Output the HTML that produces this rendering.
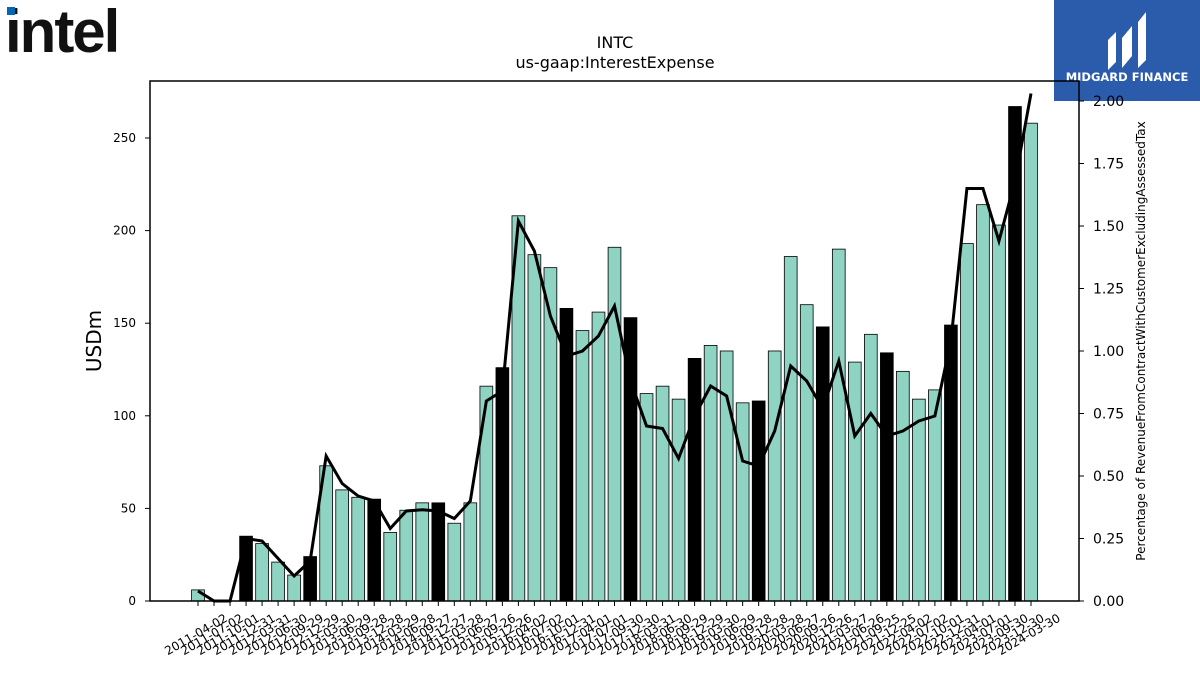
<!DOCTYPE html>
<html><head><meta charset="utf-8"><style>
body{margin:0;background:#fff;width:1200px;height:675px;overflow:hidden;font-family:"DejaVu Sans","Liberation Sans",sans-serif}
</style></head><body>
<svg id="c" width="1200" height="675" xmlns="http://www.w3.org/2000/svg" font-family="DejaVu Sans, Liberation Sans, sans-serif">
<text x="5" y="52" font-size="60" font-weight="bold" fill="#111" font-family="Liberation Sans,sans-serif" letter-spacing="-2">intel</text>
<rect x="7" y="7" width="8" height="8" fill="#0068b5"/>
<g>
<rect x="1054" y="0" width="146" height="101" fill="#2b5bab"/>
<path d="M1108 70 L1108 40 L1116 32 L1116 62 Z M1122 68 L1122 38 L1132 26 L1132 56 Z M1138 68 L1138 22 L1146 12 L1146 60 Z" fill="#fff"/>
<text x="1127" y="81" font-size="11.5" font-weight="bold" fill="#fff" text-anchor="middle">MIDGARD FINANCE</text>
</g>
<text x="615" y="48" font-size="16" text-anchor="middle">INTC</text>
<text x="615" y="68" font-size="16" text-anchor="middle">us-gaap:InterestExpense</text>
<g id="bars"></g><g id="line"></g><g id="axes"></g>
<rect x="150" y="81" width="929" height="520" fill="none" stroke="#000" stroke-width="1.5"/>
<text transform="translate(101,341) rotate(-90)" font-size="20" text-anchor="middle">USDm</text>
<text transform="translate(1145,341) rotate(-90)" font-size="12" text-anchor="middle">Percentage of RevenueFromContractWithCustomerExcludingAssessedTax</text>
</svg>
<script>
const dates=["2011-04-02","2011-07-02","2011-10-01","2011-12-31","2012-03-31","2012-06-30","2012-09-29","2012-12-29","2013-03-30","2013-06-29","2013-09-28","2013-12-28","2014-03-29","2014-06-28","2014-09-27","2014-12-27","2015-03-28","2015-06-27","2015-09-26","2015-12-26","2016-04-02","2016-07-02","2016-10-01","2016-12-31","2017-04-01","2017-07-01","2017-09-30","2017-12-30","2018-03-31","2018-06-30","2018-09-29","2018-12-29","2019-03-30","2019-06-29","2019-09-28","2019-12-28","2020-03-28","2020-06-27","2020-09-26","2020-12-26","2021-03-27","2021-06-26","2021-09-25","2021-12-25","2022-04-02","2022-07-02","2022-10-01","2022-12-31","2023-04-01","2023-07-01","2023-09-30","2023-12-30","2024-03-30"];
const expense=[6,0,0,35,31,21,14,24,73,60,56,55,37,49,53,53,42,53,116,126,208,187,180,158,146,156,191,153,112,116,109,131,138,135,107,108,135,186,160,148,190,129,144,134,124,109,114,149,193,214,203,267,258];
const pct=[0.04,0,0,0.25,0.24,0.17,0.10,0.16,0.58,0.47,0.42,0.40,0.29,0.36,0.365,0.36,0.33,0.40,0.80,0.84,1.52,1.40,1.14,0.98,1.00,1.06,1.18,0.88,0.70,0.69,0.57,0.74,0.86,0.82,0.56,0.54,0.68,0.94,0.88,0.77,0.96,0.66,0.75,0.66,0.68,0.72,0.74,1.04,1.65,1.65,1.44,1.68,2.03];
const yTicks=[0,50,100,150,200,250];
const y2Ticks=[0,0.25,0.5,0.75,1.0,1.25,1.5,1.75,2.0];
const NS="http://www.w3.org/2000/svg";
const x=i=>198+i*(1031-198)/(dates.length-1);
const y=v=>601-v*(601-138)/250;
const y2=v=>601-v*250;
function mk(t,a,p){const e=document.createElementNS(NS,t);for(const k in a)e.setAttribute(k,a[k]);document.getElementById(p).appendChild(e);return e;}
dates.forEach((d,i)=>{
  const q4=/-12-(2|3)/.test(d);
  const r=mk("rect",{x:x(i)-6.4,y:y(expense[i]),width:12.8,height:601-y(expense[i]),fill:q4?"#000":"#8fd3c3",stroke:"#000","stroke-width":0.8},"bars");
  
  
  const tk=mk("line",{x1:x(i),x2:x(i),y1:601,y2:606,stroke:"#000"},"axes");
  
  
  const t=mk("text",{transform:`translate(${x(i)},${638}) rotate(-30)`,"font-size":12,"text-anchor":"middle"},"axes");
  t.textContent=d;
  
  
});
const pl=mk("polyline",{points:pct.map((v,i)=>x(i)+","+y2(v)).join(" "),fill:"none",stroke:"#000","stroke-width":3},"line");


yTicks.forEach(v=>{
  const l=mk("line",{x1:145,x2:150,y1:y(v),y2:y(v),stroke:"#000"},"axes");
  
  
  const t=mk("text",{x:136,y:y(v)+4,"font-size":12,"text-anchor":"end"},"axes");
  t.textContent=v;
  
  
});
y2Ticks.forEach(v=>{
  const l=mk("line",{x1:1079,x2:1084,y1:y2(v),y2:y2(v),stroke:"#000"},"axes");
  
  
  const t=mk("text",{x:1093,y:y2(v)+5,"font-size":14},"axes");
  t.textContent=v.toFixed(2);
  
  
});
</script>
</body></html>
